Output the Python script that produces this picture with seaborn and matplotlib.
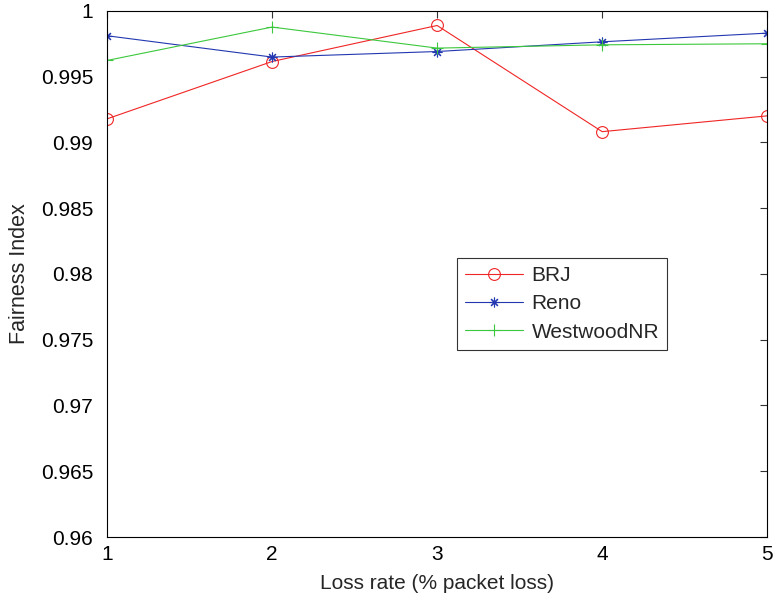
import matplotlib
matplotlib.use("Agg")
import matplotlib.pyplot as plt
import seaborn as sns
import pandas as pd

loss_rate = [1, 2, 3, 4, 5]
brj = [0.99178, 0.99614, 0.99888, 0.99081, 0.99201]
reno = [0.9981, 0.99648, 0.9969, 0.99764, 0.9983]
westwood = [0.99622, 0.99876, 0.99716, 0.99741, 0.99749]
series_names = ["BRJ", "Reno", "WestwoodNR"]
x_ticks = [1, 2, 3, 4, 5]
y_ticks = [0.96, 0.965, 0.97, 0.975, 0.98, 0.985, 0.99, 0.995, 1.0]
y_tick_labels = ["0.96", "0.965", "0.97", "0.975", "0.98", "0.985", "0.99", "0.995", "1"]

sns.set_style("white")
plt.rcParams['font.family'] = ['Liberation Sans', 'DejaVu Sans']

df = pd.DataFrame({
    "x": loss_rate * 3,
    "y": brj + reno + westwood,
    "series": [series_names[0]] * 5 + [series_names[1]] * 5 + [series_names[2]] * 5,
})

fig = plt.figure(figsize=(7.75, 5.97), dpi=100)
ax = fig.add_axes([0.138, 0.1005, 0.852, 0.8815])

colors = {"BRJ": "#f02525", "Reno": "#2338b0", "WestwoodNR": "#3cc83c"}
markers = {"BRJ": "o", "Reno": (8, 2, 0), "WestwoodNR": "+"}
sizes = {"BRJ": 8.5, "Reno": 7, "WestwoodNR": 9}
for name in series_names:
    sub = df[df["series"] == name]
    mk = markers[name]
    sns.lineplot(data=sub, x="x", y="y", ax=ax, color=colors[name], linewidth=0.8,
                 marker=mk, markersize=sizes[name],
                 markerfacecolor="none" if mk == "o" else colors[name],
                 markeredgecolor=colors[name], markeredgewidth=0.8, label=name)

ax.set_xlim(1, 5)
ax.set_ylim(0.96, 1.0)
ax.set_xticks(x_ticks)
ax.set_xticklabels([str(t) for t in x_ticks])
ax.set_yticks(y_ticks)
ax.set_yticklabels(y_tick_labels)
ax.tick_params(direction="in", top=True, right=True, labelsize=15, length=5, width=0.8,
               colors="#333333", labelcolor="black", pad=6)
ax.tick_params(axis="y", pad=10)
for s in ax.spines.values():
    s.set_color("black")
    s.set_linewidth(0.8)
ax.set_xlabel("Loss rate (% packet loss)", fontsize=15, labelpad=7)
ax.set_ylabel("Fairness Index", fontsize=15.5, labelpad=8)

leg = ax.legend(loc="upper left", bbox_to_anchor=(0.530, 0.530), fontsize=15, frameon=True,
                fancybox=False, edgecolor="black", borderpad=0.38, labelspacing=0.45,
                handlelength=2.8, handletextpad=0.4, borderaxespad=0)
leg.get_frame().set_linewidth(0.8)

fig.savefig("out.png", dpi=100)
